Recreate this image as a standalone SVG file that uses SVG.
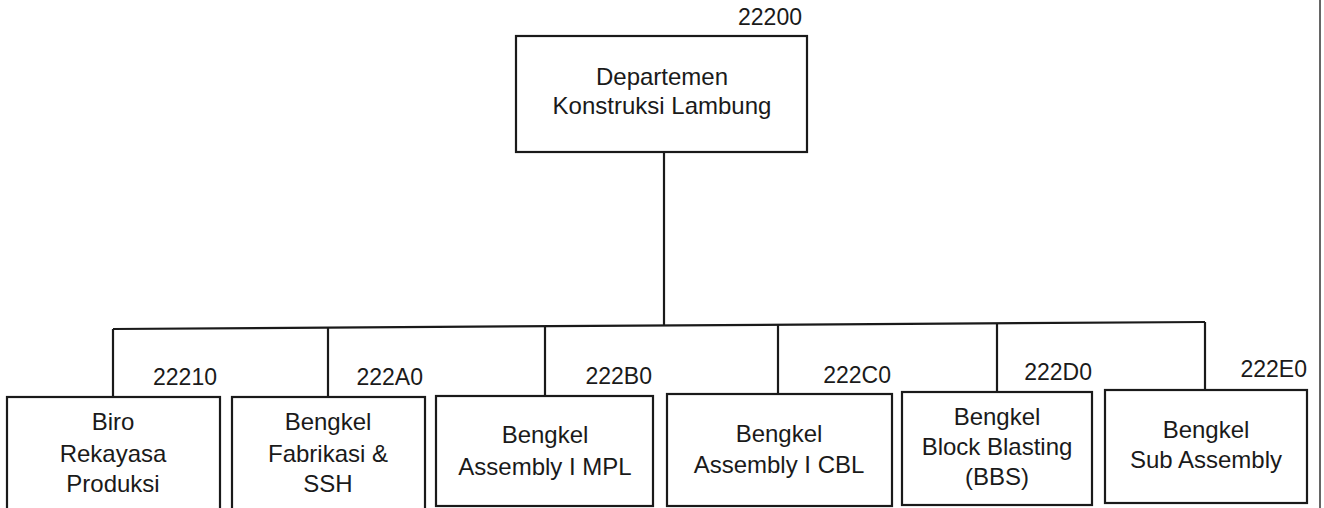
<svg xmlns="http://www.w3.org/2000/svg" width="1324" height="508" viewBox="0 0 1324 508">
<style>
.box{fill:#fff;stroke:#1a1a1a;stroke-width:2.2}
.ln{stroke:#1a1a1a;stroke-width:2.2;fill:none}
text{font-family:"Liberation Sans",Arial,sans-serif;fill:#1a1a1a}
.t{font-size:24px;text-anchor:middle}
.c{font-size:23px;text-anchor:end}
</style>
<rect width="1324" height="508" fill="#fff"/>
<line x1="1320" y1="0" x2="1320" y2="508" stroke="#333" stroke-width="1.5"/>
<g id="connectors">
<line class="ln" x1="664" y1="152" x2="664" y2="325"/>
<line class="ln" x1="113" y1="329" x2="1205" y2="322"/>
<line class="ln" x1="113" y1="329" x2="113" y2="397"/>
<line class="ln" x1="328" y1="327.6" x2="328" y2="397"/>
<line class="ln" x1="545" y1="326.2" x2="545" y2="396"/>
<line class="ln" x1="778" y1="324.7" x2="778" y2="394"/>
<line class="ln" x1="997" y1="323.3" x2="997" y2="392"/>
<line class="ln" x1="1205" y1="322" x2="1205" y2="390"/>
</g>
<g id="n22200">
<rect class="box" x="516" y="36" width="291" height="116"/>
<text class="c" x="802" y="25">22200</text>
<text class="t" x="662" y="85">Departemen</text>
<text class="t" x="662" y="114">Konstruksi Lambung</text>
</g>
<g id="n22210">
<rect class="box" x="7" y="397" width="213" height="114"/>
<text class="c" x="217" y="385">22210</text>
<text class="t" x="113" y="430">Biro</text>
<text class="t" x="113" y="462">Rekayasa</text>
<text class="t" x="113" y="492">Produksi</text>
</g>
<g id="n222A0">
<rect class="box" x="232" y="397" width="193" height="114"/>
<text class="c" x="423" y="385">222A0</text>
<text class="t" x="328" y="430">Bengkel</text>
<text class="t" x="328" y="462">Fabrikasi &amp;</text>
<text class="t" x="328" y="492">SSH</text>
</g>
<g id="n222B0">
<rect class="box" x="436" y="396" width="217" height="110"/>
<text class="c" x="652" y="384">222B0</text>
<text class="t" x="545" y="443">Bengkel</text>
<text class="t" x="545" y="475">Assembly I MPL</text>
</g>
<g id="n222C0">
<rect class="box" x="667" y="394" width="225" height="112"/>
<text class="c" x="891" y="383">222C0</text>
<text class="t" x="779" y="442">Bengkel</text>
<text class="t" x="779" y="473">Assembly I CBL</text>
</g>
<g id="n222D0">
<rect class="box" x="902" y="392" width="190" height="113"/>
<text class="c" x="1092" y="380">222D0</text>
<text class="t" x="997" y="425">Bengkel</text>
<text class="t" x="997" y="455">Block Blasting</text>
<text class="t" x="997" y="485">(BBS)</text>
</g>
<g id="n222E0">
<rect class="box" x="1105" y="390" width="202" height="113"/>
<text class="c" x="1307" y="377">222E0</text>
<text class="t" x="1206" y="438">Bengkel</text>
<text class="t" x="1206" y="468">Sub Assembly</text>
</g>
</svg>
